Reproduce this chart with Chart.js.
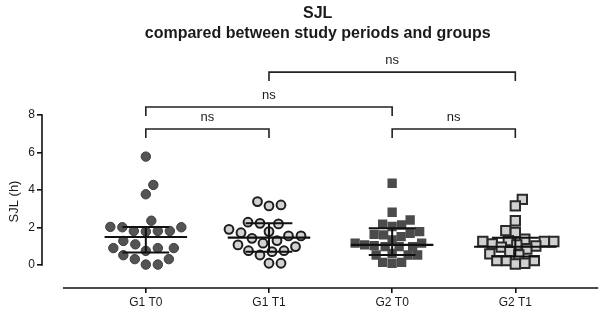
<!DOCTYPE html>
<html>
<head>
<meta charset="utf-8">
<script src="https://cdn.jsdelivr.net/npm/chart.js@4.4.1/dist/chart.umd.min.js"></script>
<style>
  html, body { margin: 0; padding: 0; background: #fff; }
  canvas { display: block; }
</style>
</head>
<body>
<canvas id="sjl" width="602" height="314"></canvas>
<script>
const groups = ['G1 T0', 'G1 T1', 'G2 T0', 'G2 T1'];

const g1t0 = [5.78, 4.27, 3.77, 2.36, 2.03, 2.01, 2.01, 1.81, 1.81, 1.81, 1.78, 1.28, 1.10, 0.90, 0.90, 0.90, 0.75, 0.52, 0.31, 0.31, 0.02, 0.02];
const g1t1 = [3.38, 3.20, 3.15, 2.28, 2.22, 2.19, 1.90, 1.78, 1.72, 1.55, 1.55, 1.42, 1.30, 1.16, 1.07, 0.98, 0.76, 0.76, 0.71, 0.53, 0.09, 0.09];
const g2t0 = [4.36, 2.81, 2.40, 2.17, 2.13, 2.05, 1.78, 1.69, 1.63, 1.60, 1.51, 1.33, 1.16, 1.16, 1.07, 1.03, 0.98, 0.98, 0.98, 0.62, 0.53, 0.53, 0.53, 0.14, 0.14, 0.09];
const g2t1 = [3.50, 3.15, 2.36, 1.83, 1.74, 1.37, 1.30, 1.25, 1.25, 1.25, 1.12, 1.07, 1.01, 0.95, 0.84, 0.71, 0.59, 0.53, 0.23, 0.23, 0.23, 0.09, 0.05];

const medians = [1.49, 1.46, 1.07, 0.97];
const q1 = [0.66, 0.71, 0.53, 0.45];
const q3 = [2.03, 2.22, 1.96, 1.45];

const yTicks = [0, 2, 4, 6, 8];

const bracketPairs = [[0, 1], [2, 3], [0, 2], [1, 3]];
const bracketLevels = [7.25, 7.25, 8.43, 10.29];
const bracketLabels = ['ns', 'ns', 'ns', 'ns'];

const ink = '#1a1a1a';
const font = 'Liberation Sans, Arial, sans-serif';
const medianHalf = 0.335;
const capHalf = 0.19;

const series = [
  { values: g1t0, style: 'circle', radius: 4.7, bg: '#545454', border: '#3c3c3c', bw: 1, gap: 12 },
  { values: g1t1, style: 'circle', radius: 4.4, bg: '#d2d2d2', border: '#1e1e1e', bw: 2, gap: 12 },
  { values: g2t0, style: 'rect', radius: 6.6, bg: '#4b4b4b', border: '#4b4b4b', bw: 0, gap: 9.5 },
  { values: g2t1, style: 'rect', radius: 6.6, bg: '#d0d0d0', border: '#2a2a2a', bw: 2, gap: 9.5 }
];

const pointSets = series.map((s, i) => ({
  type: 'scatter',
  order: 2,
  data: s.values.map(v => ({ x: i + 1, y: v })),
  pointStyle: s.style,
  pointRadius: s.radius,
  pointHoverRadius: s.radius,
  backgroundColor: s.bg,
  borderColor: s.border,
  pointBorderWidth: s.bw
}));

function hSegments(vals, half) {
  return vals.flatMap((v, i) => [{ x: i + 1 - half, y: v }, { x: i + 1 + half, y: v }, { x: i + 1, y: null }]);
}

const summaryLine = { type: 'line', order: 0, borderColor: '#111', pointRadius: 0, spanGaps: false };

const medianSet = { ...summaryLine, data: hSegments(medians, medianHalf), borderWidth: 2.2 };
const capSet = { ...summaryLine, data: hSegments(q1, capHalf).concat(hSegments(q3, capHalf)), borderWidth: 2 };
const whiskerSet = {
  ...summaryLine,
  data: groups.flatMap((g, i) => [{ x: i + 1, y: q1[i] }, { x: i + 1, y: q3[i] }, { x: i + 1, y: null }]),
  borderWidth: 2
};

const axisLines = {
  id: 'axisLines',
  afterDraw(chart) {
    const { ctx, chartArea, scales } = chart;
    ctx.save();
    ctx.strokeStyle = '#111';
    ctx.lineWidth = 1.6;
    ctx.beginPath();
    ctx.moveTo(chartArea.left, scales.y.getPixelForValue(0) + 0.8);
    ctx.lineTo(chartArea.left, scales.y.getPixelForValue(8) - 0.8);
    ctx.moveTo(scales.x.getPixelForValue(0.327), chartArea.bottom);
    ctx.lineTo(scales.x.getPixelForValue(4.673), chartArea.bottom);
    ctx.stroke();
    ctx.restore();
  }
};

const brackets = {
  id: 'brackets',
  afterDraw(chart) {
    const { ctx, scales } = chart;
    ctx.save();
    ctx.strokeStyle = '#222';
    ctx.lineWidth = 1.6;
    ctx.fillStyle = ink;
    ctx.font = '13px ' + font;
    ctx.textAlign = 'center';
    ctx.textBaseline = 'bottom';
    bracketPairs.forEach(([a, b], i) => {
      const x1 = scales.x.getPixelForValue(a + 1);
      const x2 = scales.x.getPixelForValue(b + 1);
      const y = scales.y.getPixelForValue(bracketLevels[i]);
      const yLeg = scales.y.getPixelForValue(bracketLevels[i] - 0.48);
      ctx.beginPath();
      ctx.moveTo(x1, yLeg);
      ctx.lineTo(x1, y);
      ctx.lineTo(x2, y);
      ctx.lineTo(x2, yLeg);
      ctx.stroke();
      ctx.fillText(bracketLabels[i], (x1 + x2) / 2, y - 5);
    });
    ctx.restore();
  }
};

const chart = new Chart(document.getElementById('sjl'), {
  type: 'scatter',
  data: { datasets: [medianSet, capSet, whiskerSet, ...pointSets] },
  options: {
    responsive: false,
    animation: false,
    layout: { padding: { left: 4, right: 8, top: 0, bottom: 0 } },
    plugins: {
      legend: { display: false },
      tooltip: { enabled: false },
      title: {
        display: true,
        fullSize: false,
        text: ['SJL', 'compared between study periods and groups'],
        color: ink,
        font: { family: font, size: 16, weight: 'bold', lineHeight: 1.25 },
        padding: { top: 4, bottom: 71 }
      }
    },
    scales: {
      x: {
        type: 'linear',
        min: 0.157,
        max: 4.634,
        border: { display: false },
        grid: { drawOnChartArea: false, drawTicks: true, tickLength: 5, color: '#111', lineWidth: 1.6 },
        afterBuildTicks: s => { s.ticks = groups.map((g, i) => ({ value: i + 1 })); },
        afterFit: s => { s.height = 26; },
        ticks: {
          callback: v => groups[v - 1],
          color: ink,
          padding: 2,
          maxRotation: 0,
          font: { family: font, size: 12 }
        }
      },
      y: {
        min: -1.23,
        max: 8,
        border: { display: false },
        grid: { drawOnChartArea: false, drawTicks: true, tickLength: 5, color: '#111', lineWidth: 1.6 },
        afterBuildTicks: s => { s.ticks = yTicks.map(v => ({ value: v })); },
        afterFit: s => { s.width = 38; },
        ticks: {
          color: ink,
          padding: 2,
          font: { family: font, size: 12 }
        },
        title: {
          display: true,
          text: 'SJL (h)',
          color: ink,
          padding: { top: 3, bottom: 4 },
          font: { family: font, size: 13 }
        }
      }
    }
  },
  plugins: [axisLines, brackets]
});

function swarm(values, center, gap) {
  const xs = chart.scales.x;
  const ys = chart.scales.y;
  const cx = xs.getPixelForValue(center);
  const placed = [];
  const out = new Array(values.length);
  values.map((v, i) => i).sort((a, b) => values[a] - values[b]).forEach(i => {
    const py = ys.getPixelForValue(values[i]);
    let off = 0;
    for (let k = 0; k < 400; k++) {
      const cand = k === 0 ? 0 : (k % 2 ? 1 : -1) * Math.ceil(k / 2) * 0.5;
      if (placed.every(p => Math.hypot(p.x - (cx + cand), p.y - py) >= gap)) { off = cand; break; }
    }
    placed.push({ x: cx + off, y: py });
    out[i] = { x: xs.getValueForPixel(cx + off), y: values[i] };
  });
  return out;
}

series.forEach((s, i) => {
  pointSets[i].data = swarm(s.values, i + 1, s.gap);
});
chart.update('none');
</script>
</body>
</html>
